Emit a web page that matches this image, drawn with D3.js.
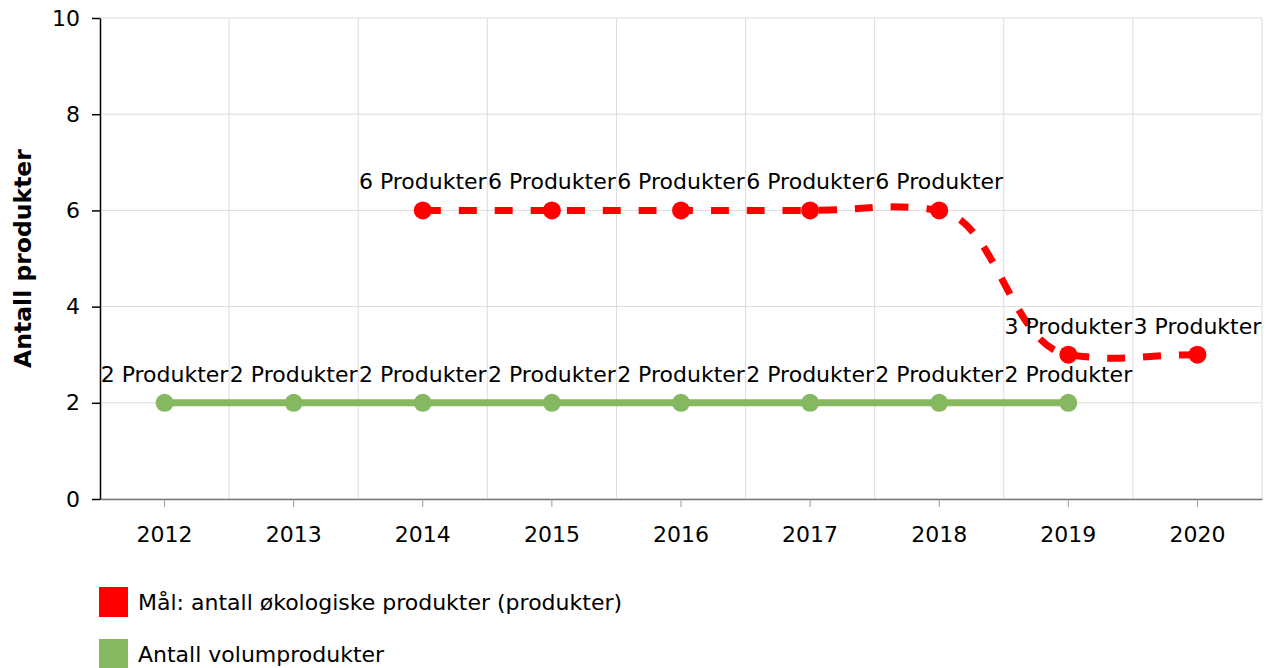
<!DOCTYPE html>
<html>
<head>
<meta charset="utf-8">
<script src="https://cdn.jsdelivr.net/npm/d3@7"></script>
<style>
  html, body { margin: 0; padding: 0; background: #fff; }
  svg { display: block; }
  svg text { font-family: "DejaVu Sans", Verdana, sans-serif; }
</style>
</head>
<body>
<div id="chart"></div>
<script>
const years = ["2012", "2013", "2014", "2015", "2016", "2017", "2018", "2019", "2020"];
const maalYears = ["2014", "2015", "2016", "2017", "2018", "2019", "2020"];
const maalValues = [6, 6, 6, 6, 6, 3, 3];
const volumYears = ["2012", "2013", "2014", "2015", "2016", "2017", "2018", "2019"];
const volumValues = [2, 2, 2, 2, 2, 2, 2, 2];
const yTicks = [0, 2, 4, 6, 8, 10];
const seriesNames = ["Mål: antall økologiske produkter (produkter)", "Antall volumprodukter"];
const unitLabel = "Produkter";

const RED = "#ff0000";
const GREEN = "#86b862";
const FONT = "'DejaVu Sans', Verdana, sans-serif";

const width = 1275, height = 668;
const margin = { top: 18, right: 13, bottom: 169, left: 100 };
const innerW = width - margin.left - margin.right;
const innerH = height - margin.top - margin.bottom;

const svg = d3.select("#chart").append("svg")
  .attr("width", width)
  .attr("height", height)
  .attr("font-family", FONT);

const x = d3.scaleBand().domain(years).range([0, innerW]);
const y = d3.scaleLinear().domain([0, 10]).range([innerH, 0]);
const cx = (d) => x(d) + x.bandwidth() / 2;

const g = svg.append("g").attr("transform", `translate(${margin.left},${margin.top})`);

// rutenett
g.append("g")
  .selectAll("line")
  .data(yTicks)
  .join("line")
  .attr("x1", 0)
  .attr("x2", innerW)
  .attr("y1", (d) => y(d))
  .attr("y2", (d) => y(d))
  .attr("stroke", "#dcdcdc")
  .attr("stroke-width", 1);

const bounds = years.slice(1).map((d) => x(d)).concat([innerW]);
g.append("g")
  .selectAll("line")
  .data(bounds)
  .join("line")
  .attr("x1", (d) => d)
  .attr("x2", (d) => d)
  .attr("y1", 0)
  .attr("y2", innerH)
  .attr("stroke", "#dcdcdc")
  .attr("stroke-width", 1);

// x-akse
const xAxis = g.append("g")
  .attr("transform", `translate(0,${innerH})`)
  .call(d3.axisBottom(x).tickSize(8).tickPadding(19).tickSizeOuter(0))
  .attr("font-family", FONT)
  .attr("font-size", 22);
xAxis.select(".domain").attr("stroke", "#777").attr("stroke-width", 1.5);
xAxis.selectAll(".tick line").attr("stroke", "#999");
xAxis.selectAll("text").attr("fill", "#000");

// y-akse
const yAxis = g.append("g")
  .call(d3.axisLeft(y).tickValues(yTicks).tickSize(8).tickPadding(12).tickSizeOuter(0))
  .attr("font-family", FONT)
  .attr("font-size", 22);
yAxis.select(".domain").attr("stroke", "#000").attr("stroke-width", 1.5);
yAxis.selectAll(".tick line").attr("stroke", "#000").attr("stroke-width", 1.5);
yAxis.selectAll("text").attr("fill", "#000");

svg.append("text")
  .attr("transform", `translate(31,${margin.top + innerH / 2}) rotate(-90)`)
  .attr("text-anchor", "middle")
  .attr("font-size", 23.5)
  .attr("font-weight", "bold")
  .attr("fill", "#000")
  .text("Antall produkter");

// spline som i Highcharts-stil, flate kontrollarmer med litt helning
function splinePath(pts, arm = 0.44, k = 0.25) {
  const p = d3.path();
  const slope = pts.map((pt, i) => {
    if (i === 0 || i === pts.length - 1) return 0;
    const a = pts[i - 1], b = pts[i + 1];
    return k * (b[1] - a[1]) / (b[0] - a[0]);
  });
  p.moveTo(pts[0][0], pts[0][1]);
  for (let i = 0; i < pts.length - 1; i++) {
    const [x0, y0] = pts[i];
    const [x1, y1] = pts[i + 1];
    const h = (x1 - x0) * arm;
    p.bezierCurveTo(x0 + h, y0 + slope[i] * h, x1 - h, y1 - slope[i + 1] * h, x1, y1);
  }
  return p.toString();
}

function drawSeries(cats, vals, color, dashed) {
  const pts = cats.map((c, i) => [cx(c), y(vals[i])]);
  const s = g.append("g");
  s.append("path")
    .attr("d", splinePath(pts))
    .attr("fill", "none")
    .attr("stroke", color)
    .attr("stroke-width", 7)
    .attr("stroke-dasharray", dashed ? "18,18" : null);
  s.selectAll("circle")
    .data(pts)
    .join("circle")
    .attr("cx", (d) => d[0])
    .attr("cy", (d) => d[1])
    .attr("r", 9)
    .attr("fill", color);
  s.selectAll("text")
    .data(cats.map((c, i) => ({ c, v: vals[i] })))
    .join("text")
    .attr("x", (d) => cx(d.c))
    .attr("y", (d) => y(d.v) - 21)
    .attr("text-anchor", "middle")
    .attr("font-size", 22)
    .attr("fill", "#000")
    .text((d) => `${d.v} ${unitLabel}`);
}

drawSeries(volumYears, volumValues, GREEN, false);
drawSeries(maalYears, maalValues, RED, true);

// tegnforklaring
const legend = svg.append("g").attr("transform", "translate(99,587)");
const legendItems = seriesNames.map((name, i) => ({ name, color: i === 0 ? RED : GREEN }));
const li = legend.selectAll("g")
  .data(legendItems)
  .join("g")
  .attr("transform", (d, i) => `translate(0,${i * 52})`);
li.append("rect")
  .attr("width", 29)
  .attr("height", 30)
  .attr("fill", (d) => d.color);
li.append("text")
  .attr("x", 39)
  .attr("y", 15)
  .attr("dominant-baseline", "central")
  .attr("font-size", 22)
  .attr("fill", "#000")
  .text((d) => d.name);
</script>
</body>
</html>
